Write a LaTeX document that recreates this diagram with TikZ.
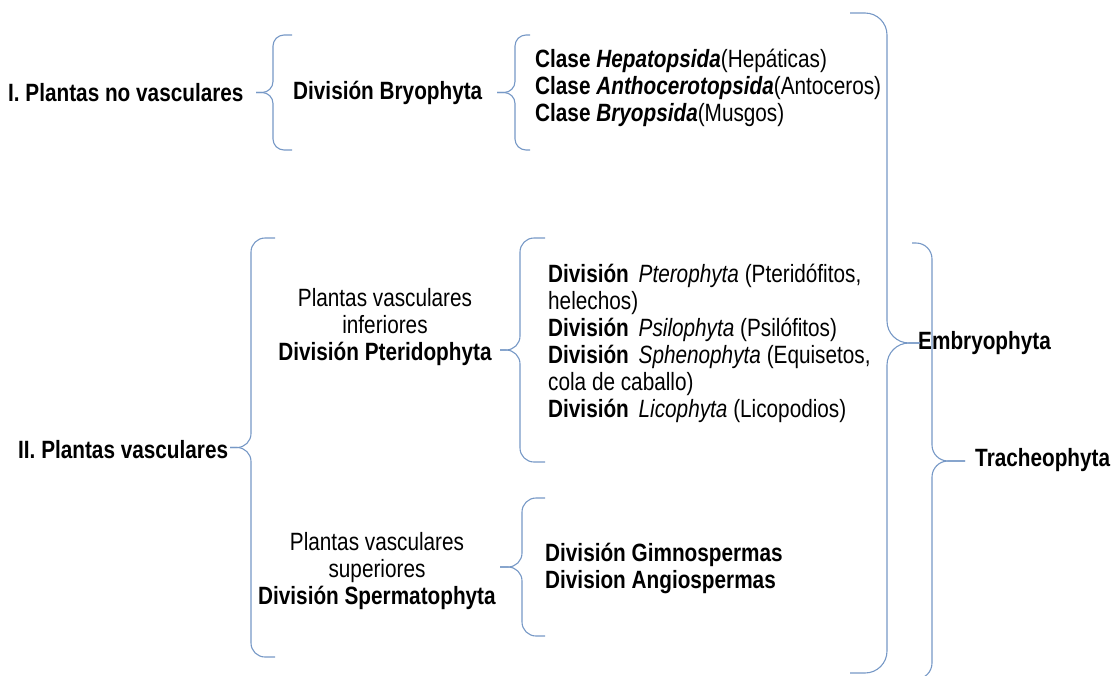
\documentclass[tikz,border=0pt]{standalone}
\usepackage{fontspec}
\setmainfont{Liberation Sans}[FakeStretch=0.83]
\definecolor{azul}{RGB}{118,152,198}
% end x, top y, bottom y, line x, tip x, radius
\newcommand{\llave}[6]{\draw[llave,rounded corners=#6] (#1,#2) -- (#4,#2) -- (#4,{(#2+#3)/2}) -- (#5,{(#2+#3)/2});
	\draw[llave,rounded corners=#6] (#1,#3) -- (#4,#3) -- (#4,{(#2+#3)/2}) -- (#5,{(#2+#3)/2})}
\newcommand{\gen}[1]{\textit{#1}}

\begin{document}
\begin{tikzpicture}[x=1pt,y=-1pt,
	llave/.style={draw=azul,line width=1.1pt},
	txt/.style={inner sep=0pt,font=\fontsize{25}{27}\selectfont},
	neg/.style={inner sep=0pt,font=\fontsize{25}{27}\selectfont\bfseries}]
\useasboundingbox (0,0) rectangle (1115,675);
%Non vascular plants
	\node[neg,anchor=west] (novasc) at (8,93) {I. Plantas no vasculares};
	\node[neg,anchor=west] (bryo) at (293,93) {División Bryophyta};
	\node[txt,anchor=west,align=left] (clases) at (535,88)
		{\textbf{Clase \gen{Hepatopsida}}(Hepáticas)\\
		 \textbf{Clase \gen{Anthocerotopsida}}(Antoceros)\\
		 \textbf{Clase \gen{Bryopsida}}(Musgos)};
%Vascular plants
	\node[neg,anchor=west] (vasc) at (18,450) {II. Plantas vasculares};
	\node[txt,align=center] (inf) at (385,327)
		{Plantas vasculares\\ inferiores\\ \textbf{División Pteridophyta}};
	\node[txt,anchor=west,align=left] (divs) at (548,343)
		{\textbf{División}\hspace{4pt} \gen{Pterophyta} (Pteridófitos,\\
		 helechos)\\
		 \textbf{División}\hspace{4pt} \gen{Psilophyta} (Psilófitos)\\
		 \textbf{División}\hspace{4pt} \gen{Sphenophyta} (Equisetos,\\
		 cola de caballo)\\
		 \textbf{División}\hspace{4pt} \gen{Licophyta} (Licopodios)};
	\node[txt,align=center] (sup) at (377,571)
		{Plantas vasculares\\ superiores\\ \textbf{División Spermatophyta}};
	\node[neg,anchor=west,align=left] (esperm) at (545,568)
		{División Gimnospermas\\ Division Angiospermas};
%Right side
	\node[neg,anchor=west] (embryo) at (918,343) {Embryophyta};
	\node[neg,anchor=west] (traqueo) at (975,460) {Tracheophyta};
%Braces
	\llave{292}{35}{150}{273}{256}{11};
	\llave{530}{35}{150}{515}{497}{11};
	\llave{275}{238}{657}{251}{230}{14};
	\llave{545}{238}{462}{520}{500}{14};
	\llave{545}{498}{636}{522}{500}{14};
	\llave{850}{13}{673}{887}{920}{22};
	\llave{912}{243}{679}{932}{965}{16};
\end{tikzpicture}
\end{document}
